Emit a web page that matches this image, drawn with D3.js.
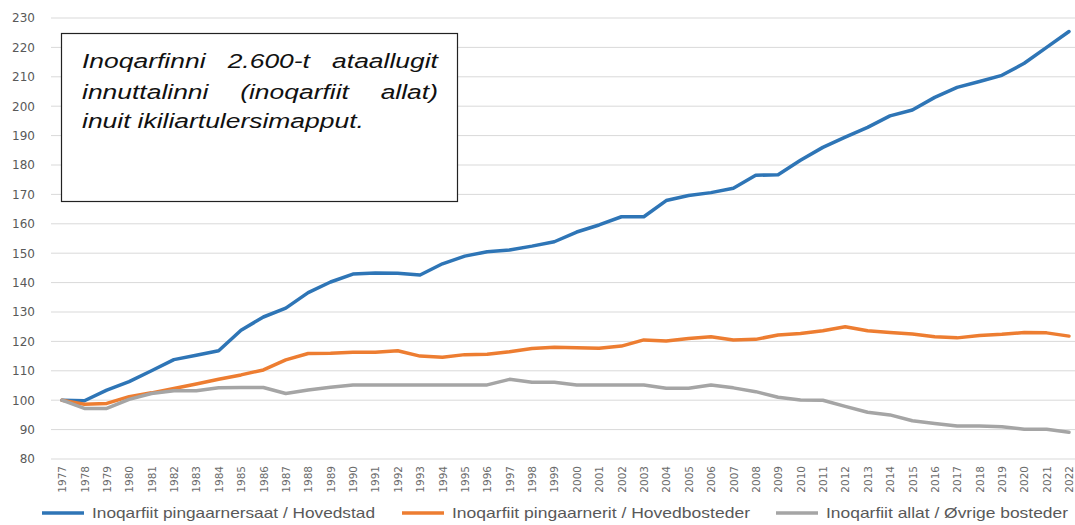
<!DOCTYPE html>
<html>
<head>
<meta charset="utf-8">
<script src="https://cdn.jsdelivr.net/npm/d3@7"></script>
<style>
  html, body { margin: 0; padding: 0; background: #fff; }
  svg { display: block; }
</style>
</head>
<body>
<svg id="chart" width="1075" height="525"></svg>
<script>
// ---- DATA ----
const years = [1977,1978,1979,1980,1981,1982,1983,1984,1985,1986,1987,1988,1989,1990,1991,1992,1993,1994,1995,1996,1997,1998,1999,2000,2001,2002,2003,2004,2005,2006,2007,2008,2009,2010,2011,2012,2013,2014,2015,2016,2017,2018,2019,2020,2021,2022];
const hovedstad = [100,99.8,103.4,106.3,110,113.8,115.3,116.8,123.8,128.3,131.3,136.6,140.2,142.9,143.3,143.2,142.6,146.4,149,150.5,151.1,152.4,153.9,157.2,159.6,162.4,162.4,167.9,169.6,170.6,172.1,176.5,176.7,181.6,186,189.5,192.8,196.7,198.7,203,206.4,208.4,210.5,214.6,220,225.4];
const hovedbosteder = [100,98.6,98.9,101.2,102.5,104,105.5,107.1,108.6,110.3,113.7,115.9,116,116.3,116.3,116.8,115,114.6,115.5,115.6,116.5,117.6,118,117.8,117.7,118.4,120.5,120.1,121,121.6,120.5,120.7,122.2,122.7,123.6,125,123.6,123,122.5,121.6,121.2,122,122.4,123,122.9,121.8];
const ovrige = [100,97.2,97.2,100.3,102.3,103.2,103.2,104.2,104.3,104.3,102.3,103.5,104.4,105.2,105.2,105.2,105.2,105.2,105.2,105.2,107.1,106.1,106.1,105.2,105.2,105.2,105.2,104.1,104.1,105.2,104.2,102.9,101,100.1,100,97.9,95.9,95,93,92.1,91.2,91.2,91,90.1,90.1,89.1];
const yTicks = [80,90,100,110,120,130,140,150,160,170,180,190,200,210,220,230];
const seriesNames = ["Inoqarfiit pingaarnersaat / Hovedstad","Inoqarfiit pingaarnerit / Hovedbosteder","Inoqarfiit allat / Øvrige bosteder"];
const seriesColors = ["#2E75B6","#ED7D31","#A5A5A5"];
const noteLines = [["Inoqarfinni","2.600-t","ataallugit"],["innuttalinni","(inoqarfiit","allat)"],["inuit","ikiliartulersimapput."]];

// ---- CHART ----
const svg = d3.select("#chart");
const x = d3.scalePoint().domain(years).range([62, 1069]);
const y = d3.scaleLinear().domain([80, 230]).range([459, 18]);

// gridlines
svg.append("g").selectAll("line").data(yTicks).join("line")
  .attr("x1", 51).attr("x2", 1075)
  .attr("y1", d => y(d)).attr("y2", d => y(d))
  .attr("stroke", "#D9D9D9").attr("stroke-width", 1);

// y axis labels
const yAxis = svg.append("g").attr("transform", "translate(35,0)")
  .call(d3.axisLeft(y).tickValues(yTicks).tickSize(0).tickPadding(0));
yAxis.select(".domain").remove();
yAxis.selectAll("text").attr("font-family", "DejaVu Sans").attr("font-size", 12).attr("fill", "#595959");

// x axis labels
const xAxis = svg.append("g").attr("transform", "translate(0,466)")
  .call(d3.axisBottom(x).tickSize(0).tickPadding(0).tickFormat(d3.format("d")));
xAxis.select(".domain").remove();
xAxis.selectAll("text")
  .attr("font-family", "DejaVu Sans").attr("font-size", 10.5).attr("fill", "#6b6b6b")
  .attr("text-anchor", "end").attr("dy", "0.35em").attr("y", 0)
  .attr("transform", "rotate(-90)");

// lines
const data = [hovedstad, hovedbosteder, ovrige];
const line = d3.line().x((d, i) => x(years[i])).y(d => y(d));
svg.append("g").selectAll("path").data(data).join("path")
  .attr("d", line).attr("fill", "none")
  .attr("stroke", (d, i) => seriesColors[i])
  .attr("stroke-width", 3.5).attr("stroke-linejoin", "round").attr("stroke-linecap", "round");

// legend
const legendX = [42, 402, 776];
const legendTextW = [283, 298, 242];
const lg = svg.append("g").selectAll("g").data(seriesNames).join("g")
  .attr("transform", (d, i) => `translate(${legendX[i]},513)`);
lg.append("line").attr("x1", 0).attr("x2", 42).attr("y1", 0).attr("y2", 0)
  .attr("stroke", (d, i) => seriesColors[i]).attr("stroke-width", 3.5);
lg.append("text").attr("x", 50).attr("y", 0).attr("dy", "0.35em")
  .attr("font-family", "Liberation Sans, sans-serif").attr("font-size", 14.5)
  .attr("textLength", (d, i) => legendTextW[i]).attr("lengthAdjust", "spacingAndGlyphs")
  .attr("fill", "#595959").text(d => d);

// note box
svg.append("rect").attr("x", 61.5).attr("y", 33.5).attr("width", 396).attr("height", 168)
  .attr("fill", "#fff").attr("stroke", "#222").attr("stroke-width", 1.2);
const noteLeft = 82, noteRight = 438, stretch = 1.26;
const baselines = [68, 98.5, 128];
noteLines.forEach((words, li) => {
  const g = svg.append("g");
  const ts = words.map(w => g.append("text")
    .attr("font-family", "Liberation Sans, Arial, sans-serif").attr("font-style", "italic")
    .attr("font-size", 21).attr("fill", "#111").text(w));
  const widths = ts.map(t => t.node().getComputedTextLength() * stretch);
  const total = d3.sum(widths);
  const justify = li < noteLines.length - 1;
  const gap = justify ? (noteRight - noteLeft - total) / (words.length - 1) : 7;
  let cx = noteLeft;
  ts.forEach((t, k) => {
    t.attr("transform", `translate(${cx},${baselines[li]}) scale(${stretch},1)`);
    cx += widths[k] + gap;
  });
});
</script>
</body>
</html>
